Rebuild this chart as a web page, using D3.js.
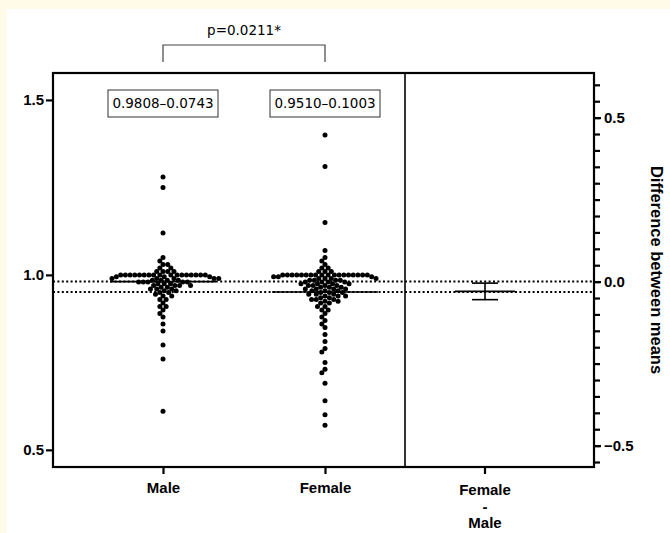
<!DOCTYPE html>
<html>
<head>
<meta charset="utf-8">
<script src="https://cdn.jsdelivr.net/npm/d3@7"></script>
<style>
    html, body { margin: 0; padding: 0; background: #fffbe8; }
    svg { display: block; }
</style>
</head>
<body>
<svg id="chart" width="670" height="533"></svg>
<script>
'use strict';

var groups = ['Male', 'Female'];

var maleValues = [
    1.28, 1.25, 1.12, 1.05, 1.04, 1.03, 1.03, 1.02, 1.02, 1.01, 1.01, 1.01, 1.01,
    1.00, 1.00, 1.00, 1.00, 1.00, 1.00, 1.00, 1.00, 1.00,
    1.00, 1.00, 1.00, 1.00, 1.00, 1.00, 1.00, 1.00,
    0.995, 0.995, 0.995, 0.99, 0.99, 0.99, 0.99, 0.99,
    0.985, 0.985, 0.985, 0.985, 0.98, 0.98, 0.98, 0.98, 0.98,
    0.975, 0.975, 0.975, 0.97, 0.97, 0.97, 0.97, 0.965, 0.965,
    0.96, 0.96, 0.96, 0.955, 0.955, 0.95, 0.95, 0.945, 0.94, 0.94,
    0.93, 0.93, 0.92, 0.91, 0.91, 0.90, 0.89, 0.88, 0.86, 0.84, 0.80, 0.76, 0.61
];

var femaleValues = [
    1.40, 1.31, 1.15, 1.07, 1.05, 1.04, 1.03, 1.02, 1.02, 1.01, 1.01, 1.01,
    1.00, 1.00, 1.00, 1.00, 1.00, 1.00, 1.00, 1.00, 1.00,
    1.00, 1.00, 1.00, 1.00, 1.00, 1.00, 1.00, 1.00, 1.00,
    0.995, 0.995, 0.995, 0.99, 0.99, 0.99, 0.99,
    0.985, 0.985, 0.985, 0.985, 0.98, 0.98, 0.98, 0.98,
    0.975, 0.975, 0.975, 0.975, 0.97, 0.97, 0.97, 0.97,
    0.965, 0.965, 0.965, 0.96, 0.96, 0.96, 0.96, 0.955, 0.955, 0.955,
    0.95, 0.95, 0.95, 0.945, 0.945, 0.945, 0.94, 0.94, 0.94,
    0.935, 0.935, 0.93, 0.93, 0.93, 0.925, 0.925, 0.92, 0.92,
    0.91, 0.91, 0.90, 0.90, 0.89, 0.88, 0.87, 0.86, 0.85, 0.83, 0.81,
    0.79, 0.78, 0.75, 0.73, 0.72, 0.69, 0.64, 0.60, 0.57
];

var groupMeans = [0.9808, 0.9510];
var groupLabels = ['0.9808\u20130.0743', '0.9510\u20130.1003'];
var diffLines = ['Female', '-', 'Male'];
var meanDiff = -0.0298;
var diffCI = [-0.0550, -0.0046];
var pLabel = 'p=0.0211*';
var leftTicks = [0.5, 1.0, 1.5];
var rightTicks = [-0.5, 0.0, 0.5];
var rightTitle = 'Difference between means';

var frameL = 53, frameR = 594, frameT = 73, frameB = 467, divider = 405;
var labelFont = '"Liberation Sans", Arial, sans-serif';
var noteFont = '"DejaVu Sans", Verdana, sans-serif';

var svg = d3.select('#chart');

svg.append('rect')
    .attr('x', 7).attr('y', 9)
    .attr('width', 663).attr('height', 524)
    .attr('fill', '#fff');

var y = d3.scaleLinear().domain([0.451, 1.577]).range([frameB, frameT]);
var x = d3.scalePoint().domain(groups).range([163, 325]);
var xDiff = 485;

// difference axis: zero sits on the male mean
var zeroY = y(groupMeans[0]);
var yDiff = d3.scaleLinear()
    .domain([-(frameB - zeroY) / 328, (zeroY - frameT) / 328])
    .range([frameB, frameT]);

// dotted reference lines at both means
groupMeans.forEach(function(m) {
    svg.append('line')
        .attr('x1', frameL).attr('x2', frameR)
        .attr('y1', y(m)).attr('y2', y(m))
        .attr('stroke', '#000')
        .attr('stroke-width', 2)
        .attr('stroke-dasharray', '2,2.4');
});

// simple beeswarm: each point goes to the free x offset closest to the centre
var swarm = function(values, cx, r) {
    var placed = [];
    values.slice().sort(function(a, b) { return b - a; }).forEach(function(v) {
        var py = y(v);
        var near = placed.filter(function(p) { return Math.abs(p.y - py) < 2 * r; });
        var cands = [0];
        near.forEach(function(p) {
            var dx = Math.sqrt(4 * r * r - (p.y - py) * (p.y - py));
            cands.push(p.dx - dx, p.dx + dx);
        });
        cands.sort(function(a, b) { return Math.abs(a) - Math.abs(b); });
        var best = cands.find(function(c) {
            return near.every(function(p) {
                var ddx = p.dx - c, ddy = p.y - py;
                return ddx * ddx + ddy * ddy >= 4 * r * r - 0.01;
            });
        });
        placed.push({ v: v, y: py, dx: best });
    });
    return placed.map(function(p) { return { x: cx + p.dx, y: p.y }; });
};

[maleValues, femaleValues].forEach(function(vals, i) {
    var pts = swarm(vals, x(groups[i]), 2.35);
    svg.append('g').selectAll('circle')
        .data(pts)
        .enter().append('circle')
        .attr('cx', function(d) { return d.x; })
        .attr('cy', function(d) { return d.y; })
        .attr('r', 2.5)
        .attr('fill', '#000');

    svg.append('line')
        .attr('x1', x(groups[i]) - 53).attr('x2', x(groups[i]) + 53)
        .attr('y1', y(groupMeans[i])).attr('y2', y(groupMeans[i]))
        .attr('stroke', '#000').attr('stroke-width', 1.6);

    // mean-sd box
    var bx = x(groups[i]);
    svg.append('rect')
        .attr('x', bx - 55).attr('y', 90)
        .attr('width', 110).attr('height', 27)
        .attr('fill', '#fff').attr('stroke', '#333').attr('stroke-width', 1);
    svg.append('text')
        .attr('x', bx).attr('y', 108)
        .attr('text-anchor', 'middle')
        .style('font-family', noteFont).style('font-size', '13.5px')
        .text(groupLabels[i]);
});

// difference with its confidence interval
svg.append('line')
    .attr('x1', xDiff - 30).attr('x2', xDiff + 30)
    .attr('y1', yDiff(meanDiff)).attr('y2', yDiff(meanDiff))
    .attr('stroke', '#000').attr('stroke-width', 1.6);
svg.append('line')
    .attr('x1', xDiff).attr('x2', xDiff)
    .attr('y1', yDiff(diffCI[0])).attr('y2', yDiff(diffCI[1]))
    .attr('stroke', '#000').attr('stroke-width', 1.6);
diffCI.forEach(function(c) {
    svg.append('line')
        .attr('x1', xDiff - 13).attr('x2', xDiff + 13)
        .attr('y1', yDiff(c)).attr('y2', yDiff(c))
        .attr('stroke', '#000').attr('stroke-width', 1.6);
});

// frame
svg.append('rect')
    .attr('x', frameL).attr('y', frameT)
    .attr('width', frameR - frameL).attr('height', frameB - frameT)
    .attr('fill', 'none').attr('stroke', '#000').attr('stroke-width', 2.2);
svg.append('line')
    .attr('x1', divider).attr('x2', divider)
    .attr('y1', frameT).attr('y2', frameB)
    .attr('stroke', '#000').attr('stroke-width', 1.6);

// axes
var styleAxis = function(g, size) {
    g.select('.domain').remove();
    g.selectAll('line').attr('stroke', '#000').attr('stroke-width', 2.2);
    g.selectAll('text')
        .attr('fill', '#000')
        .style('font-family', labelFont)
        .style('font-weight', 'bold')
        .style('font-size', size);
};

svg.append('g')
    .attr('transform', 'translate(' + frameL + ',0)')
    .call(d3.axisLeft(y).tickValues(leftTicks).tickFormat(d3.format('.1f')).tickSize(7).tickPadding(2))
    .call(styleAxis, '15px');

var minor = d3.range(-11, 13).map(function(i) { return i * 0.05; })
    .filter(function(d) { return d >= yDiff.domain()[0] && d <= yDiff.domain()[1]; });
svg.append('g')
    .attr('transform', 'translate(' + frameR + ',0)')
    .call(d3.axisRight(yDiff).tickValues(minor).tickFormat('').tickSize(6))
    .call(styleAxis, '15px');
svg.append('g')
    .attr('transform', 'translate(' + frameR + ',0)')
    .call(d3.axisRight(yDiff).tickValues(rightTicks).tickFormat(d3.format('.1f')).tickSize(7).tickPadding(3))
    .call(styleAxis, '15px');

svg.append('g')
    .attr('transform', 'translate(0,' + frameB + ')')
    .call(d3.axisBottom(x).tickSize(7).tickPadding(8))
    .call(styleAxis, '15px');

svg.append('line')
    .attr('x1', xDiff).attr('x2', xDiff)
    .attr('y1', frameB).attr('y2', frameB + 7)
    .attr('stroke', '#000').attr('stroke-width', 2.2);
diffLines.forEach(function(t, i) {
    svg.append('text')
        .attr('x', xDiff).attr('y', 495 + i * 16.5)
        .attr('text-anchor', 'middle')
        .style('font-family', labelFont).style('font-weight', 'bold').style('font-size', '15px')
        .text(t);
});

svg.append('text')
    .attr('transform', 'translate(651,270) rotate(90)')
    .attr('text-anchor', 'middle')
    .style('font-family', labelFont).style('font-weight', 'bold').style('font-size', '16.5px')
    .text(rightTitle);

// significance bracket
svg.append('path')
    .attr('d', 'M' + x(groups[0]) + ',62V45H' + x(groups[1]) + 'V62')
    .attr('fill', 'none').attr('stroke', '#444').attr('stroke-width', 1.2);
svg.append('text')
    .attr('x', (x(groups[0]) + x(groups[1])) / 2).attr('y', 35)
    .attr('text-anchor', 'middle')
    .style('font-family', noteFont).style('font-size', '13.5px')
    .text(pLabel);
</script>
</body>
</html>
